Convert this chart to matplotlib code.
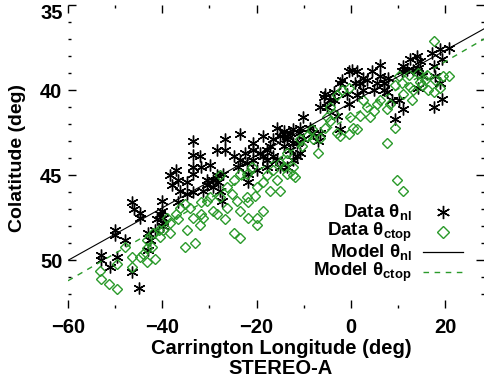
import matplotlib
matplotlib.use('Agg')
import matplotlib.pyplot as plt
from matplotlib.lines import Line2D
from matplotlib.ticker import MultipleLocator, FixedLocator, FixedFormatter

plt.rcParams['font.family'] = ['Liberation Sans', 'DejaVu Sans']
plt.rcParams['font.weight'] = 'bold'
plt.rcParams['mathtext.fontset'] = 'custom'
plt.rcParams['mathtext.rm'] = 'Liberation Sans:bold'
plt.rcParams['mathtext.it'] = 'Liberation Sans:bold'
plt.rcParams['mathtext.bf'] = 'Liberation Sans:bold'

GREEN = '#2a9a2a'
W, H = 484, 381

# data theta_nl (Carrington longitude, colatitude)
nl_lon = [-52.9, -51.1, -49.7, -52.9, -46.5, -46.1, -44.7, -44.7, -50.0, -47.9,
          -50.0, -46.5, -44.9, -43.0, -43.0, -41.2, -40.1, -40.1, -39.8, -39.8,
          -41.5, -38.4, -38.0, -36.6, -36.2, -36.6, -34.8, -34.8, -33.6, -33.4,
          -32.0, -29.9, -31.7, -33.4, -33.4, -33.4, -31.3, -30.6, -30.6, -28.5,
          -28.5, -28.1, -27.8, -26.7, -26.7, -27.1, -27.4, -23.5, -23.9, -22.5,
          -21.8, -21.8, -18.6, -20.7, -18.6, -17.9, -17.2, -16.5, -15.7, -14.3,
          -13.6, -12.9, -12.2, -11.5, -10.8, -10.1, -12.2, -15.0, -17.9, -20.0,
          -14.3, -12.9, -11.1, -8.7, -8.0, -6.9, -6.6, -6.6, -5.8, -5.5,
          -4.4, -3.7, -3.0, -2.3, -2.3, -2.0, -0.9, -0.5, -0.5, 0.2,
          1.2, 0.9, 1.2, 2.6, 2.6, 4.4, 4.8, 6.2, 6.2, 6.9,
          7.9, 7.6, 8.6, 9.4, 10.1, 11.1, 11.1, 11.8, 12.5, 13.2,
          13.9, 14.3, 14.7, 15.0, 17.1, 17.5, 17.8, 17.5, 19.3, 19.3,
          18.9, 20.7, 18.9, 14.3, -24.9, -23.5, -20.7, -19.3, -16.5, -15.7,
          -13.6, -12.2, -10.8, -10.1, -17.9, -22.1, -20.7, -13.6, -15.0, -11.5,
          -37.0, -29.2, -29.2, -42.6, -40.5, -39.8, 1.9, 3.3, 5.5, 6.9,
          -3.7, -5.1, 10.8, 13.9]
nl_colat = [49.7, 50.4, 49.8, 50.0, 46.6, 47.0, 47.2, 47.5, 48.5, 48.8,
            48.2, 50.7, 51.6, 48.4, 49.4, 47.6, 47.1, 46.5, 47.5, 48.0,
            48.2, 45.0, 45.6, 45.3, 45.9, 46.6, 45.4, 46.1, 43.0, 43.8,
            43.9, 44.4, 44.5, 44.5, 44.9, 46.0, 45.9, 45.3, 45.6, 43.5,
            45.0, 45.4, 45.9, 42.9, 43.5, 44.9, 46.5, 42.6, 44.5, 43.7,
            44.9, 45.4, 42.7, 43.5, 43.9, 44.1, 43.3, 42.9, 42.2, 42.4,
            42.7, 42.5, 43.1, 43.9, 42.2, 41.6, 42.3, 44.5, 44.5, 44.7,
            43.3, 43.5, 42.5, 42.2, 42.5, 43.0, 42.5, 41.0, 40.4, 40.2,
            40.6, 40.1, 41.5, 42.3, 39.6, 39.4, 40.2, 40.8, 38.9, 38.8,
            38.9, 39.6, 40.3, 39.3, 40.0, 38.9, 40.0, 39.2, 38.5, 39.6,
            39.3, 40.1, 40.6, 41.7, 40.6, 41.1, 38.6, 38.8, 38.2, 38.8,
            38.0, 38.7, 38.3, 39.2, 37.8, 38.6, 39.2, 41.0, 40.5, 38.2,
            37.6, 37.5, 39.6, 39.9, 43.9, 44.1, 44.1, 43.7, 43.9, 44.1,
            44.5, 44.1, 43.7, 42.9, 43.5, 44.3, 43.1, 42.9, 42.7, 43.1,
            44.7, 45.3, 45.7, 48.8, 47.3, 47.8, 39.6, 39.4, 39.6, 40.0,
            40.6, 41.0, 38.9, 38.9]

# data theta_ctop
ct_lon = [-53.2, -52.9, -51.4, -49.7, -49.7, -47.9, -46.5, -46.5, -44.7, -43.3,
          -43.3, -41.5, -43.3, -41.9, -40.5, -39.8, -38.4, -38.4, -37.0, -36.6,
          -34.8, -35.2, -33.1, -35.2, -33.4, -32.0, -31.7, -31.7, -31.3, -29.9,
          -29.2, -28.5, -27.8, -26.7, -26.3, -25.3, -24.9, -23.5, -24.2, -23.5,
          -22.1, -21.8, -21.8, -20.3, -20.0, -20.0, -18.6, -23.5, -22.1, -21.0,
          -20.0, -18.6, -17.9, -17.2, -15.7, -15.0, -16.5, -15.0, -13.6, -13.6,
          -12.2, -12.2, -11.9, -10.8, -10.4, -9.4, -8.3, -6.9, -6.6, -5.5,
          -5.1, -4.4, -3.7, -3.0, -2.3, -0.5, -0.2, 0.5, 1.2, 1.9,
          2.6, 3.3, 4.1, 4.8, 5.5, 6.2, 7.6, 8.3, 7.6, 9.4,
          9.7, 11.1, 9.4, 10.1, 10.8, 11.1, 12.2, 12.5, 12.9, 13.2,
          14.3, 14.7, 15.0, 15.7, 16.1, 16.4, 17.5, 17.8, 18.9, 19.6,
          20.7, 17.5, -0.5, -2.0, -3.0, -4.4, -27.8, -24.9, -26.3, -30.6,
          -34.1, -36.2, -39.1, -40.8, -42.2, -44.0, -13.6, -8.0, -14.3]
ct_colat = [50.6, 51.1, 51.4, 51.7, 50.2, 49.2, 49.8, 50.4, 49.8, 50.1,
            49.3, 49.9, 48.8, 48.4, 48.6, 48.2, 47.8, 48.4, 47.3, 47.6,
            48.2, 49.2, 49.0, 46.7, 47.5, 47.9, 46.6, 47.3, 47.5, 46.3,
            47.1, 47.3, 46.3, 47.6, 46.9, 46.1, 48.4, 48.7, 46.5, 47.1,
            46.3, 47.5, 46.6, 46.2, 47.5, 47.9, 47.1, 44.9, 44.9, 44.5,
            45.7, 45.4, 45.0, 45.9, 45.3, 45.9, 44.7, 44.3, 43.7, 44.9,
            44.5, 45.0, 45.1, 42.9, 43.3, 42.7, 42.3, 43.7, 42.8, 42.2,
            41.6, 41.8, 41.4, 42.5, 42.7, 42.6, 41.6, 42.2, 42.3, 41.5,
            40.6, 41.0, 41.6, 41.2, 40.8, 40.6, 41.1, 40.8, 43.1, 42.2,
            45.3, 45.9, 39.7, 39.2, 39.6, 40.2, 39.1, 39.8, 40.6, 40.0,
            39.0, 39.5, 39.7, 39.4, 39.1, 40.0, 40.1, 39.4, 39.9, 39.2,
            39.2, 37.1, 39.9, 40.0, 40.3, 41.0, 45.0, 45.3, 45.7, 46.5,
            46.9, 46.9, 47.5, 48.2, 49.2, 49.6, 44.1, 42.9, 44.5]

# model fits
model_lon = [-60.0, 28.2]
model_nl = [50.0, 36.4]
model_ctop = [51.2, 37.0]

y_ticks = [35, 40, 45, 50]
y_labels = ['', '40', '45', '50']   # the "35" is placed by hand, a bit lower

fig = plt.figure(figsize=(W / 100, H / 100), dpi=100)
ax = fig.add_axes([68 / W, 1 - 308 / H, (W - 68) / W, (308 - 5) / H])

star = (6, 2, 0)
ax.plot(nl_lon, nl_colat, linestyle='none', marker=star, markersize=8.5,
        markeredgewidth=1.0, color='black')
ax.plot(ct_lon, ct_colat, linestyle='none', marker='D', markersize=5.5,
        markerfacecolor='none', markeredgewidth=1.0, markeredgecolor=GREEN)
ax.plot(model_lon, model_nl, color='black', lw=0.8)
ax.plot(model_lon, model_ctop, color=GREEN, lw=1.0, ls=(0, (4, 4)))

ax.set_xlim(-60, 28.2)
ax.set_ylim(52.8, 35)
for s in ax.spines.values():
    s.set_visible(False)

ax.xaxis.set_major_locator(MultipleLocator(20))
ax.xaxis.set_minor_locator(MultipleLocator(10))
ax.yaxis.set_major_locator(FixedLocator(y_ticks))
ax.yaxis.set_major_formatter(FixedFormatter(y_labels))
ax.yaxis.set_minor_locator(MultipleLocator(1))
ax.tick_params(which='both', direction='in', top=True, right=True,
               labelsize=14.5, width=1.0)
ax.tick_params(which='major', length=6)
ax.tick_params(which='minor', length=2)
ax.tick_params(axis='x', pad=7)
ax.tick_params(axis='y', pad=4)
for lab in ax.get_xticklabels() + ax.get_yticklabels():
    lab.set_fontweight('bold')
ax.annotate('35', xy=(0, 35), xycoords=('axes fraction', 'data'),
            xytext=(-3.5, -6), textcoords='offset points', ha='right', va='center',
            fontsize=14.5, fontweight='bold')

fig.text(18 / W, 1 - 158 / H, 'Colatitude (deg)', rotation=90, ha='center',
         va='center', fontsize=14, fontweight='bold')
fig.text(281 / W, 1 - 348 / H, 'Carrington Longitude (deg)', ha='center',
         va='center', fontsize=14.5, fontweight='bold')
fig.text(281 / W, 1 - 369 / H, 'STEREO-A', ha='center', va='center',
         fontsize=14.5, fontweight='bold')

# legend, drawn by hand so the labels sit right-aligned before the samples
labels = [r'Data θ$_{\rm nl}$', r'Data θ$_{\rm ctop}$',
          r'Model θ$_{\rm nl}$', r'Model θ$_{\rm ctop}$']
rows = [212, 232, 252, 272]
for lab, y in zip(labels, rows):
    fig.text(412 / W, 1 - y / H, lab, ha='right', va='center', fontsize=13.5,
             fontweight='bold')
fy = [1 - y / H for y in rows]
fig.add_artist(Line2D([443 / W], [fy[0]], marker=star, markersize=9.5,
                      color='black', linestyle='none', transform=fig.transFigure))
fig.add_artist(Line2D([443 / W], [fy[1]], marker='D', markersize=6.5,
                      markerfacecolor='none', markeredgecolor=GREEN,
                      linestyle='none', transform=fig.transFigure))
fig.add_artist(Line2D([423 / W, 463 / W], [fy[2], fy[2]], color='black', lw=0.9,
                      transform=fig.transFigure))
fig.add_artist(Line2D([423 / W, 463 / W], [fy[3], fy[3]], color=GREEN, lw=1.0,
                      ls=(0, (4, 4)), transform=fig.transFigure))

fig.savefig('out.png', dpi=100)
